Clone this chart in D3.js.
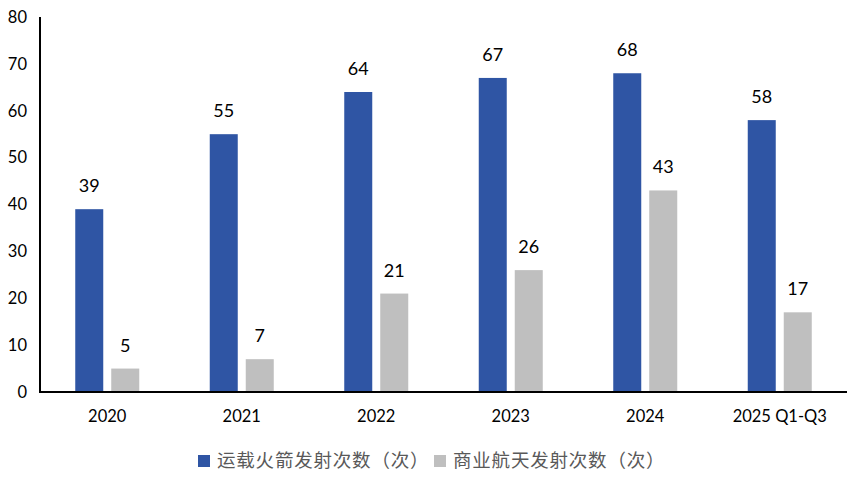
<!DOCTYPE html>
<html><head><meta charset="utf-8">
<script src="https://cdn.jsdelivr.net/npm/d3@7"></script>
<style>body{margin:0;background:#fff}</style>
</head><body>
<svg id="c" width="860" height="477"></svg>
<script>
const categories = ["2020","2021","2022","2023","2024","2025 Q1-Q3"];
const seriesNames = ["运载火箭发射次数（次）","商业航天发射次数（次）"];
const rocketLaunches = [39,55,64,67,68,58];
const commercialLaunches = [5,7,21,26,43,17];
const yTicks = [0,10,20,30,40,50,60,70,80];
const colors = ["#2F55A4","#BFBFBF"];

(function(){
const svg = d3.select("#c");
const pL = 40, pR = 847, pT = 17, pB = 392;
const x = d3.scaleBand().domain(categories).range([pL, pR]).paddingInner(0).paddingOuter(0);
const y = d3.scaleLinear().domain([0,80]).range([pB, pT]);
const font = "Lato, 'Noto Sans', sans-serif";
const bw = 28, gap = 8;

svg.append("g").selectAll("text").data(yTicks).join("text")
  .attr("x", 27).attr("y", d => y(d)).attr("dy","0.35em")
  .attr("text-anchor","end").attr("font-family",font).attr("font-size",16.5).attr("fill","#000")
  .text(d => d);

const series = [rocketLaunches, commercialLaunches];
series.forEach((vals, si) => {
  const off = si === 0 ? -(gap/2 + bw) : gap/2;
  const g = svg.append("g");
  g.selectAll("rect").data(vals).join("rect")
    .attr("x", (d,i) => x(categories[i]) + x.bandwidth()/2 + off)
    .attr("y", d => y(d)).attr("width", bw).attr("height", d => y(0) - y(d))
    .attr("fill", colors[si]);
  g.selectAll("text").data(vals).join("text")
    .attr("x", (d,i) => x(categories[i]) + x.bandwidth()/2 + off + bw/2)
    .attr("y", d => y(d) - 17)
    .attr("text-anchor","middle").attr("font-family",font).attr("font-size",18).attr("fill","#000")
    .text(d => d);
});

svg.append("line").attr("x1",pL).attr("x2",pL).attr("y1",pT).attr("y2",pB+1)
  .attr("stroke","#000").attr("stroke-width",2);
svg.append("line").attr("x1",pL).attr("x2",pR).attr("y1",pB).attr("y2",pB)
  .attr("stroke","#000").attr("stroke-width",2);

svg.append("g").selectAll("text").data(categories).join("text")
  .attr("x", d => x(d) + x.bandwidth()/2).attr("y", 422)
  .attr("text-anchor","middle").attr("font-family",font).attr("font-size",16.5).attr("fill","#000")
  .text(d => d);

const legX = [198, 434];
seriesNames.forEach((n, i) => {
  svg.append("rect").attr("x", legX[i]).attr("y", 455).attr("width", 12).attr("height", 12).attr("fill", colors[i]);
  svg.append("text").attr("x", legX[i] + 19).attr("y", 467)
    .attr("font-family","'Noto Sans CJK SC', sans-serif").attr("font-size",18.5)
    .attr("letter-spacing", 0.8).attr("fill","#595959")
    .text(n);
});
})();
</script>
</body></html>
